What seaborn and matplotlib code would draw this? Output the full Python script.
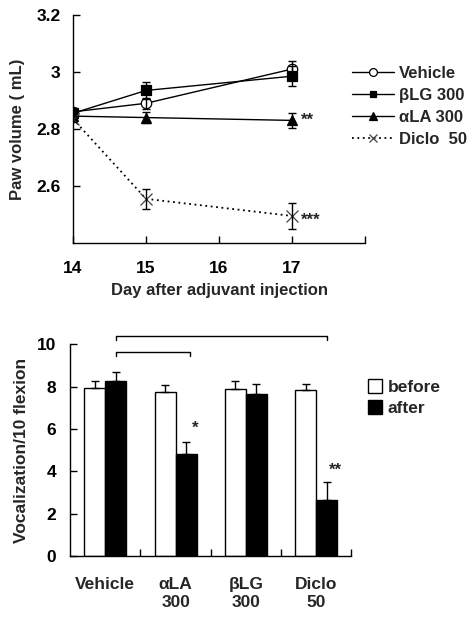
import matplotlib
matplotlib.use('Agg')
import matplotlib.pyplot as plt
import pandas as pd
import seaborn as sns

# paw volume (top panel)
days = [14, 15, 17]
vehicle = [2.86, 2.89, 3.01]
vehicle_err = [0.015, 0.02, 0.03]
blg = [2.855, 2.935, 2.985]
blg_err = [0.01, 0.03, 0.035]
ala = [2.845, 2.84, 2.83]
ala_err = [0.01, 0.02, 0.025]
diclo = [2.835, 2.555, 2.495]
diclo_err = [0.01, 0.035, 0.045]
line_labels = ['Vehicle', '\u03b2LG 300', '\u03b1LA 300', 'Diclo  50']
day_ticks = [14, 15, 16, 17, 18]
day_ticklabels = ['14', '15', '16', '17', '']
vol_ticks = [2.6, 2.8, 3.0, 3.2]
vol_ticklabels = ['2.6', '2.8', '3', '3.2']

# vocalization (bottom panel)
groups = ['Vehicle', '\u03b1LA\n300', '\u03b2LG\n300', 'Diclo\n50']
before = [7.94, 7.75, 7.88, 7.83]
before_err = [0.3, 0.3, 0.4, 0.3]
after = [8.25, 4.84, 7.67, 2.64]
after_err = [0.45, 0.55, 0.47, 0.87]

sns.set_style('ticks')
plt.rcParams['font.family'] = ['Liberation Sans', 'DejaVu Sans']
plt.rcParams['font.weight'] = 'bold'
plt.rcParams['axes.labelweight'] = 'bold'
plt.rcParams['xtick.direction'] = 'in'
plt.rcParams['ytick.direction'] = 'in'

fig = plt.figure(figsize=(4.71, 6.2), dpi=100)
ax = fig.add_axes([0.155, 0.608, 0.62, 0.368])
ax2 = fig.add_axes([0.149, 0.103, 0.597, 0.342])

# ---- top panel ----
series = [
    (vehicle, vehicle_err, dict(marker='o', markerfacecolor='white', markersize=7.5,
                                markeredgecolor='black', linestyle='-', lw=1)),
    (blg, blg_err, dict(marker='s', markerfacecolor='black', markersize=6.5,
                        markeredgecolor='black', linestyle='-', lw=1)),
    (ala, ala_err, dict(marker='^', markerfacecolor='black', markersize=7,
                        markeredgecolor='black', linestyle='-', lw=1)),
    (diclo, diclo_err, dict(marker='x', markersize=8, markeredgecolor='#444444',
                            linestyle=(0, (1, 2)), lw=1.3)),
]
for (vals, err, kw), lab in zip(series, line_labels):
    sns.lineplot(x=days, y=vals, ax=ax, color='black', markeredgewidth=0.9, label=lab, **kw)
    ax.errorbar(days, vals, yerr=err, fmt='none', ecolor='black', elinewidth=1, capsize=3)

ax.set_xlim(14, 18)
ax.set_ylim(2.4, 3.2)
ax.set_xticks(day_ticks)
ax.set_xticklabels(day_ticklabels)
ax.set_yticks(vol_ticks)
ax.set_yticklabels(vol_ticklabels)
ax.tick_params(labelsize=12.5, length=5, width=1, colors='black')
ax.tick_params(axis='x', pad=13)
ax.tick_params(axis='y', pad=9)
ax.set_xlabel('Day after adjuvant injection', fontsize=12, labelpad=5)
ax.set_ylabel('Paw volume ( mL)', fontsize=12, labelpad=8)
for s in ['top', 'right']:
    ax.spines[s].set_visible(False)
for s in ['left', 'bottom']:
    ax.spines[s].set_color('black')
    ax.spines[s].set_linewidth(1)
ax.text(17.12, ala[2], '**', fontsize=12, va='center', ha='left')
ax.text(17.12, diclo[2] - 0.015, '***', fontsize=12, va='center', ha='left')
ax.legend(loc='upper left', bbox_to_anchor=(0.955, 0.775), frameon=False, fontsize=12,
          handlelength=2.5, handletextpad=0.3, labelspacing=0.42, borderpad=0,
          borderaxespad=0, markerscale=0.75)

# ---- bottom panel ----
df = pd.DataFrame({
    'group': groups * 2,
    'phase': ['before'] * 4 + ['after'] * 4,
    'value': before + after,
})
sns.barplot(data=df, x='group', y='value', hue='phase', palette={'before': 'white', 'after': 'black'},
            edgecolor='black', linewidth=1, width=0.6, errorbar=None, ax=ax2, saturation=1)

centers = []
for cont, vals, err in zip(ax2.containers, [before, after], [before_err, after_err]):
    xs = [p.get_x() + p.get_width() / 2 for p in cont.patches]
    centers.append(xs)
    ax2.errorbar(xs, vals, yerr=[[0] * len(err), err], fmt='none', ecolor='black',
                 elinewidth=1, capsize=3, zorder=1)

ax2.set_xlim(-0.5, 3.5)
ax2.set_ylim(0, 10)
ax2.set_yticks([0, 2, 4, 6, 8, 10])
ax2.set_xticks([0.5, 1.5, 2.5, 3.5], minor=True)
ax2.tick_params(axis='x', which='major', length=0, labelsize=12.5, pad=15)
ax2.tick_params(axis='x', which='minor', length=5, width=1, colors='black')
ax2.tick_params(axis='y', labelsize=12.5, length=5, width=1, colors='black', pad=10)
for t in ax2.get_xticklabels():
    t.set_linespacing(1.25)
ax2.set_xlabel('')
ax2.set_ylabel('Vocalization/10 flexion', fontsize=12.5, labelpad=6)
for s in ['top', 'right']:
    ax2.spines[s].set_visible(False)
for s in ['left', 'bottom']:
    ax2.spines[s].set_color('black')
    ax2.spines[s].set_linewidth(1)

ax2.text(centers[1][1] + 0.13, after[1] + after_err[1] + 0.45, '*', fontsize=12, ha='center')
ax2.text(centers[1][3] + 0.12, after[3] + after_err[3] + 0.35, '**', fontsize=12, ha='center')

# significance brackets
x0 = centers[1][0]
for x1, yb in [(centers[1][3], 10.38), (centers[1][1] + 0.05, 9.62)]:
    ax2.plot([x0, x0, x1, x1], [yb - 0.2, yb, yb, yb - 0.2], color='black', lw=1, clip_on=False)

ax2.legend(loc='upper left', bbox_to_anchor=(1.06, 0.835), frameon=False, fontsize=12.5,
           handlelength=0.8, handleheight=0.9, handletextpad=0.3, labelspacing=0.25,
           borderpad=0, borderaxespad=0)

fig.savefig('out.png', dpi=100)
